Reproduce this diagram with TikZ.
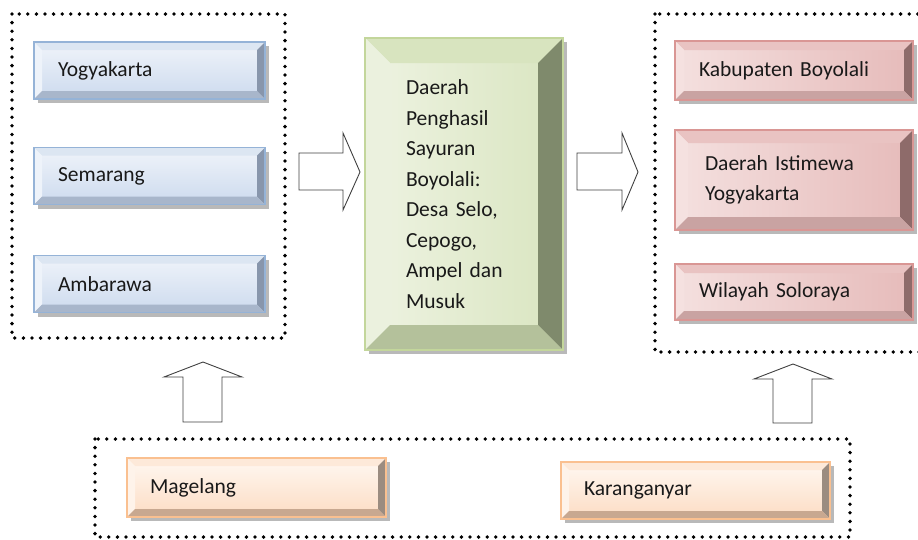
\documentclass[tikz,border=0pt]{standalone}
\usepackage{fontspec}
\setmainfont{Carlito}
\usetikzlibrary{shadows}

% warna kotak
\definecolor{biruAtas}{HTML}{F0F4FA}
\definecolor{biruBawah}{HTML}{CCDAEE}
\definecolor{biruAtasF}{HTML}{DCE6F2}
\definecolor{biruKiriF}{HTML}{EEF3FA}
\definecolor{biruKananF}{HTML}{8896AC}
\definecolor{biruBawahF}{HTML}{A8B6CB}
\definecolor{biruGaris}{HTML}{95B3D7}
\definecolor{hijauAtas}{HTML}{EEF3E2}
\definecolor{hijauBawah}{HTML}{D9E5C0}
\definecolor{hijauAtasF}{HTML}{D8E4BF}
\definecolor{hijauKiriF}{HTML}{EBF1DE}
\definecolor{hijauKananF}{HTML}{7F8A6C}
\definecolor{hijauBawahF}{HTML}{B4C19B}
\definecolor{hijauGaris}{HTML}{C3D69B}
\definecolor{merahAtas}{HTML}{F4E0DF}
\definecolor{merahBawah}{HTML}{E6BBBA}
\definecolor{merahAtasF}{HTML}{E9C3C2}
\definecolor{merahKiriF}{HTML}{F5E1E0}
\definecolor{merahKananF}{HTML}{8E6B6A}
\definecolor{merahBawahF}{HTML}{C9A3A2}
\definecolor{merahGaris}{HTML}{D99694}
\definecolor{oranyeAtas}{HTML}{FFF8F2}
\definecolor{oranyeBawah}{HTML}{FCDCC3}
\definecolor{oranyeAtasF}{HTML}{FDE9D9}
\definecolor{oranyeKiriF}{HTML}{FEF3EA}
\definecolor{oranyeKananF}{HTML}{9B8C80}
\definecolor{oranyeBawahF}{HTML}{C8A890}
\definecolor{oranyeGaris}{HTML}{FAC090}

% sisi miring kotak: #1 node, #2 lebar sisi (pt), #3 warna
\newcommand{\bevel}[3]{%
  \fill[#3AtasF] (#1.north west) -- (#1.north east) -- ([xshift=-#2pt,yshift=-#2pt]#1.north east) -- ([xshift=#2pt,yshift=-#2pt]#1.north west) -- cycle;
  \fill[#3KiriF] (#1.north west) -- ([xshift=#2pt,yshift=-#2pt]#1.north west) -- ([xshift=#2pt,yshift=#2pt]#1.south west) -- (#1.south west) -- cycle;
  \fill[#3KananF] (#1.north east) -- (#1.south east) -- ([xshift=-#2pt,yshift=#2pt]#1.south east) -- ([xshift=-#2pt,yshift=-#2pt]#1.north east) -- cycle;
  \fill[#3BawahF] (#1.south west) -- (#1.south east) -- ([xshift=-#2pt,yshift=#2pt]#1.south east) -- ([xshift=#2pt,yshift=#2pt]#1.south west) -- cycle;
  \draw[#3Garis, line width=1.6pt] (#1.north west) rectangle (#1.south east);
}

\tikzset{
  kotak/.style={rectangle, outer sep=0pt, inner ysep=0pt, align=left, text=black!90,
    font=\fontsize{21.5}{30.5}\selectfont,
    drop shadow={shadow xshift=4pt, shadow yshift=-4pt, fill=black!50, opacity=.55}},
  biru/.style={kotak, top color=biruAtas, bottom color=biruBawah, minimum height=57pt, inner xsep=24pt, text width=183pt},
  hijau/.style={kotak, left color=hijauAtas, right color=hijauBawah},
  merah/.style={kotak, left color=merahAtas, right color=merahBawah, inner xsep=24pt, text width=190pt},
  oranye/.style={kotak, top color=oranyeAtas, bottom color=oranyeBawah, inner xsep=23pt},
  titik/.style={line width=3.8pt, dash pattern=on 0pt off 8.6pt, line cap=round},
  panah/.style={draw=black!75, line width=0.9pt, fill=white, line join=miter}
}

\begin{document}
\begin{tikzpicture}[x=1pt, y=-1pt]
  \useasboundingbox (0,0) rectangle (918,539);

  % bingkai bertitik
  \draw[titik] (12,14) rectangle (285,338);
  \draw[titik] (655,14) rectangle (930,352);
  \draw[titik] (95,439) rectangle (850,537);

  % asal
  \node[biru] (yogya) at (149.5,70.5) {Yogyakarta};
  \node[biru] (semarang) at (149.5,176) {Semarang};
  \node[biru] (ambarawa) at (149.5,284) {Ambarawa};
  \bevel{yogya}{8}{biru}
  \bevel{semarang}{8}{biru}
  \bevel{ambarawa}{8}{biru}

  % daerah penghasil
  \node[hijau, minimum width=198pt, minimum height=312pt, inner xsep=41pt, text width=116pt] (boyolali) at (464,194)
    {Daerah\\ Penghasil\\ Sayuran\\ Boyolali:\\ Desa Selo,\\ Cepogo,\\ Ampel dan\\ Musuk};
  \bevel{boyolali}{25}{hijau}

  % tujuan
  \node[merah, minimum height=59pt] (kabupaten) at (794,70.5) {Kabupaten Boyolali};
  \node[merah, minimum height=100pt, inner xsep=30pt, text width=178pt] (diy) at (794,180) {Daerah Istimewa\\ Yogyakarta};
  \node[merah, minimum height=56pt] (solo) at (794,292) {Wilayah Soloraya};
  \bevel{kabupaten}{9}{merah}
  \bevel{diy}{13}{merah}
  \bevel{solo}{9}{merah}

  % bawah
  \node[oranye, minimum height=59pt, text width=213pt] (magelang) at (256.5,487.5) {Magelang};
  \node[oranye, minimum height=57pt, text width=223pt] (karanganyar) at (695.5,490.5) {Karanganyar};
  \bevel{magelang}{8}{oranye}
  \bevel{karanganyar}{8}{oranye}

  % panah blok
  \draw[panah] (299,153) -- (343,153) -- (343,133) -- (360,172) -- (343,210) -- (343,190) -- (299,190) -- cycle;
  \draw[panah] (577,153) -- (622,153) -- (622,133) -- (638,172) -- (622,210) -- (622,190) -- (577,190) -- cycle;
  \draw[panah] (183,422) -- (183,377) -- (164,377) -- (203,362) -- (242,377) -- (222,377) -- (222,422) -- cycle;
  \draw[panah] (773,423) -- (773,379) -- (754,379) -- (793,364) -- (832,379) -- (812,379) -- (812,423) -- cycle;
\end{tikzpicture}
\end{document}
